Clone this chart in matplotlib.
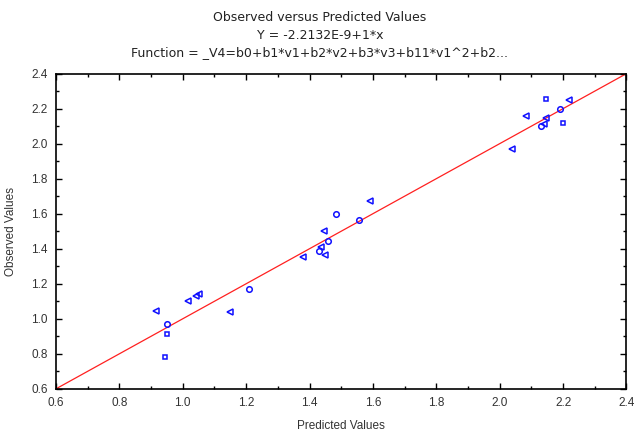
import numpy as np
import matplotlib
matplotlib.use("Agg")
import matplotlib.pyplot as plt
from matplotlib.ticker import MultipleLocator

plt.rcParams['font.family'] = ['Liberation Sans', 'DejaVu Sans']

# predicted / observed pairs, grouped by the marker used in the picture
circ_x = [0.95, 1.21, 1.484, 1.459, 1.43, 1.557, 2.19, 2.13]
circ_y = [0.97, 1.17, 1.60, 1.443, 1.386, 1.562, 2.20, 2.098]
tri_x = [0.916, 1.017, 1.043, 1.052, 1.15, 1.38, 1.446, 1.437, 1.45, 1.59, 2.084, 2.22, 2.147, 2.14, 2.04]
tri_y = [1.044, 1.10, 1.13, 1.14, 1.04, 1.35, 1.50, 1.408, 1.363, 1.67, 2.16, 2.25, 2.149, 2.11, 1.97]
sq_x = [0.95, 0.944, 2.147, 2.20]
sq_y = [0.913, 0.78, 2.257, 2.12]

b0 = -2.2132e-9
b1 = 1.0

fig = plt.figure(figsize=(6.36, 4.33), dpi=100)
ax = fig.add_axes([0.088, 0.102, 0.897, 0.728])

lx = np.array([0.6, 2.4])
ax.plot(lx, b0 + b1 * lx, color='#ff2020', lw=0.9, zorder=2)

mk = dict(mfc='none', mec='#1010ff', mew=1.1, ls='none', zorder=3)
ax.plot(circ_x, circ_y, marker='o', ms=4, **mk)
ax.plot(tri_x, tri_y, marker='<', ms=4.5, **mk)
ax.plot(sq_x, sq_y, marker='s', ms=3.5, **mk)

ax.set_xlim(0.6, 2.4)
ax.set_ylim(0.6, 2.4)
ax.xaxis.set_major_locator(MultipleLocator(0.2))
ax.yaxis.set_major_locator(MultipleLocator(0.2))
ax.xaxis.set_minor_locator(MultipleLocator(0.1))
ax.yaxis.set_minor_locator(MultipleLocator(0.1))
ax.xaxis.set_major_formatter(plt.FormatStrFormatter('%.1f'))
ax.yaxis.set_major_formatter(plt.FormatStrFormatter('%.1f'))
ax.tick_params(which='both', direction='in', top=True, right=True, labelsize=8.5,
               labelcolor='#333333', width=1)
ax.tick_params(which='major', length=4, pad=6)
ax.tick_params(which='minor', length=2)
for s in ax.spines.values():
    s.set_linewidth(1.2)

ax.set_xlabel("Predicted Values", fontsize=8.5, color='#333333', labelpad=8)
ax.set_ylabel("Observed Values", fontsize=8.5, color='#333333', labelpad=10)

tkw = dict(ha='center', va='center', fontsize=9, color='#222222', family='DejaVu Sans')
fig.text(0.503, 0.960, "Observed versus Predicted Values", **tkw)
fig.text(0.503, 0.919, "Y = -2.2132E-9+1*x", **tkw)
fig.text(0.503, 0.879, "Function = _V4=b0+b1*v1+b2*v2+b3*v3+b11*v1^2+b2...", **tkw)

fig.savefig("out.png", dpi=100)
